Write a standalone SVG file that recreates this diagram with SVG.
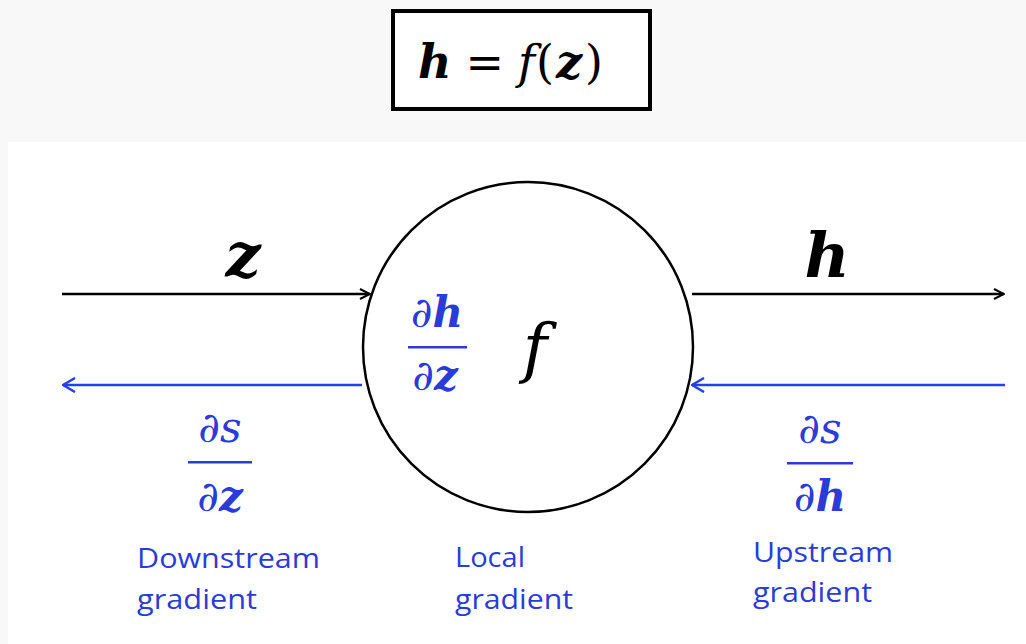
<svg xmlns="http://www.w3.org/2000/svg" width="1026" height="644" viewBox="0 0 1026 644">
<style>
.m{font-family:"DejaVu Serif","Liberation Serif",serif;font-style:italic}
.mb{font-family:"DejaVu Serif","Liberation Serif",serif;font-style:italic;font-weight:bold}
.r{font-family:"DejaVu Serif","Liberation Serif",serif}
.blue{fill:#2a3bd8}
.lbl{font-family:"Open Sans","Noto Sans",sans-serif;font-size:28px;fill:#2a3bd8}
.bk{stroke:#000;stroke-width:2.5;fill:none}
.bl{stroke:#2240f0;stroke-width:2.5;fill:none}
</style>
<defs>
<marker id="ab" viewBox="0 0 12 12" refX="11" refY="6" markerWidth="12" markerHeight="12" markerUnits="userSpaceOnUse" orient="auto">
<path d="M1,1 L11,6 L1,11" fill="none" stroke="#000" stroke-width="2"/>
</marker>
<marker id="au" viewBox="0 0 14 16" refX="13" refY="8" markerWidth="14" markerHeight="16" markerUnits="userSpaceOnUse" orient="auto">
<path d="M1,1 L13,8 L1,15" fill="none" stroke="#2240f0" stroke-width="2.5"/>
</marker>
</defs>
<rect x="0" y="0" width="1026" height="644" fill="#f8f8f8"/>
<rect x="8" y="142" width="1018" height="502" fill="#ffffff"/>

<g id="formula">
<rect x="393" y="11" width="257" height="98" fill="#fff" stroke="#000" stroke-width="4"/>
<text x="418" y="78" font-size="46"><tspan class="mb">h</tspan><tspan class="r" dx="14">=</tspan><tspan class="m" dx="14">f</tspan><tspan class="r" dx="1">(</tspan><tspan class="mb" dx="2">z</tspan><tspan class="r" dx="3">)</tspan></text>
</g>

<g id="connectors">
<line x1="62" y1="294" x2="370" y2="294" class="bk" marker-end="url(#ab)"/>
<line x1="692" y1="294" x2="1004" y2="294" class="bk" marker-end="url(#ab)"/>
<line x1="362" y1="385" x2="63" y2="385" class="bl" marker-end="url(#au)"/>
<line x1="1005" y1="385" x2="692" y2="385" class="bl" marker-end="url(#au)"/>
</g>

<g id="label-z"><text class="mb" x="243" y="277" font-size="62" text-anchor="middle">z</text></g>
<g id="label-h"><text class="mb" x="827" y="277" font-size="62" text-anchor="middle">h</text></g>

<g id="node-f">
<circle cx="528" cy="347" r="165" fill="#fff" stroke="#000" stroke-width="2.5"/>
<text class="m" x="535" y="370" font-size="66" text-anchor="middle">f</text>
<g class="blue">
<text x="437" y="327" font-size="42" text-anchor="middle"><tspan class="m">∂</tspan><tspan class="mb">h</tspan></text>
<rect x="408" y="346" width="59" height="2.5"/>
<text x="435" y="390" font-size="42" text-anchor="middle"><tspan class="m">∂</tspan><tspan class="mb">z</tspan></text>
</g>
</g>

<g id="downstream">
<g class="blue">
<text x="220" y="442" font-size="42" text-anchor="middle" class="m">∂s</text>
<rect x="188" y="461" width="64" height="2.5"/>
<text x="220" y="511" font-size="42" text-anchor="middle"><tspan class="m">∂</tspan><tspan class="mb">z</tspan></text>
</g>
<text class="lbl" x="137" y="568" textLength="183" lengthAdjust="spacingAndGlyphs">Downstream</text>
<text class="lbl" x="137" y="609" textLength="120" lengthAdjust="spacingAndGlyphs">gradient</text>
</g>

<g id="local">
<text class="lbl" x="455" y="567" textLength="70" lengthAdjust="spacingAndGlyphs">Local</text>
<text class="lbl" x="455" y="609" textLength="118" lengthAdjust="spacingAndGlyphs">gradient</text>
</g>

<g id="upstream">
<g class="blue">
<text x="820" y="443" font-size="42" text-anchor="middle" class="m">∂s</text>
<rect x="787" y="462" width="66" height="2.5"/>
<text x="820" y="511" font-size="42" text-anchor="middle"><tspan class="m">∂</tspan><tspan class="mb">h</tspan></text>
</g>
<text class="lbl" x="753" y="562" textLength="140" lengthAdjust="spacingAndGlyphs">Upstream</text>
<text class="lbl" x="753" y="602" textLength="119" lengthAdjust="spacingAndGlyphs">gradient</text>
</g>
</svg>
